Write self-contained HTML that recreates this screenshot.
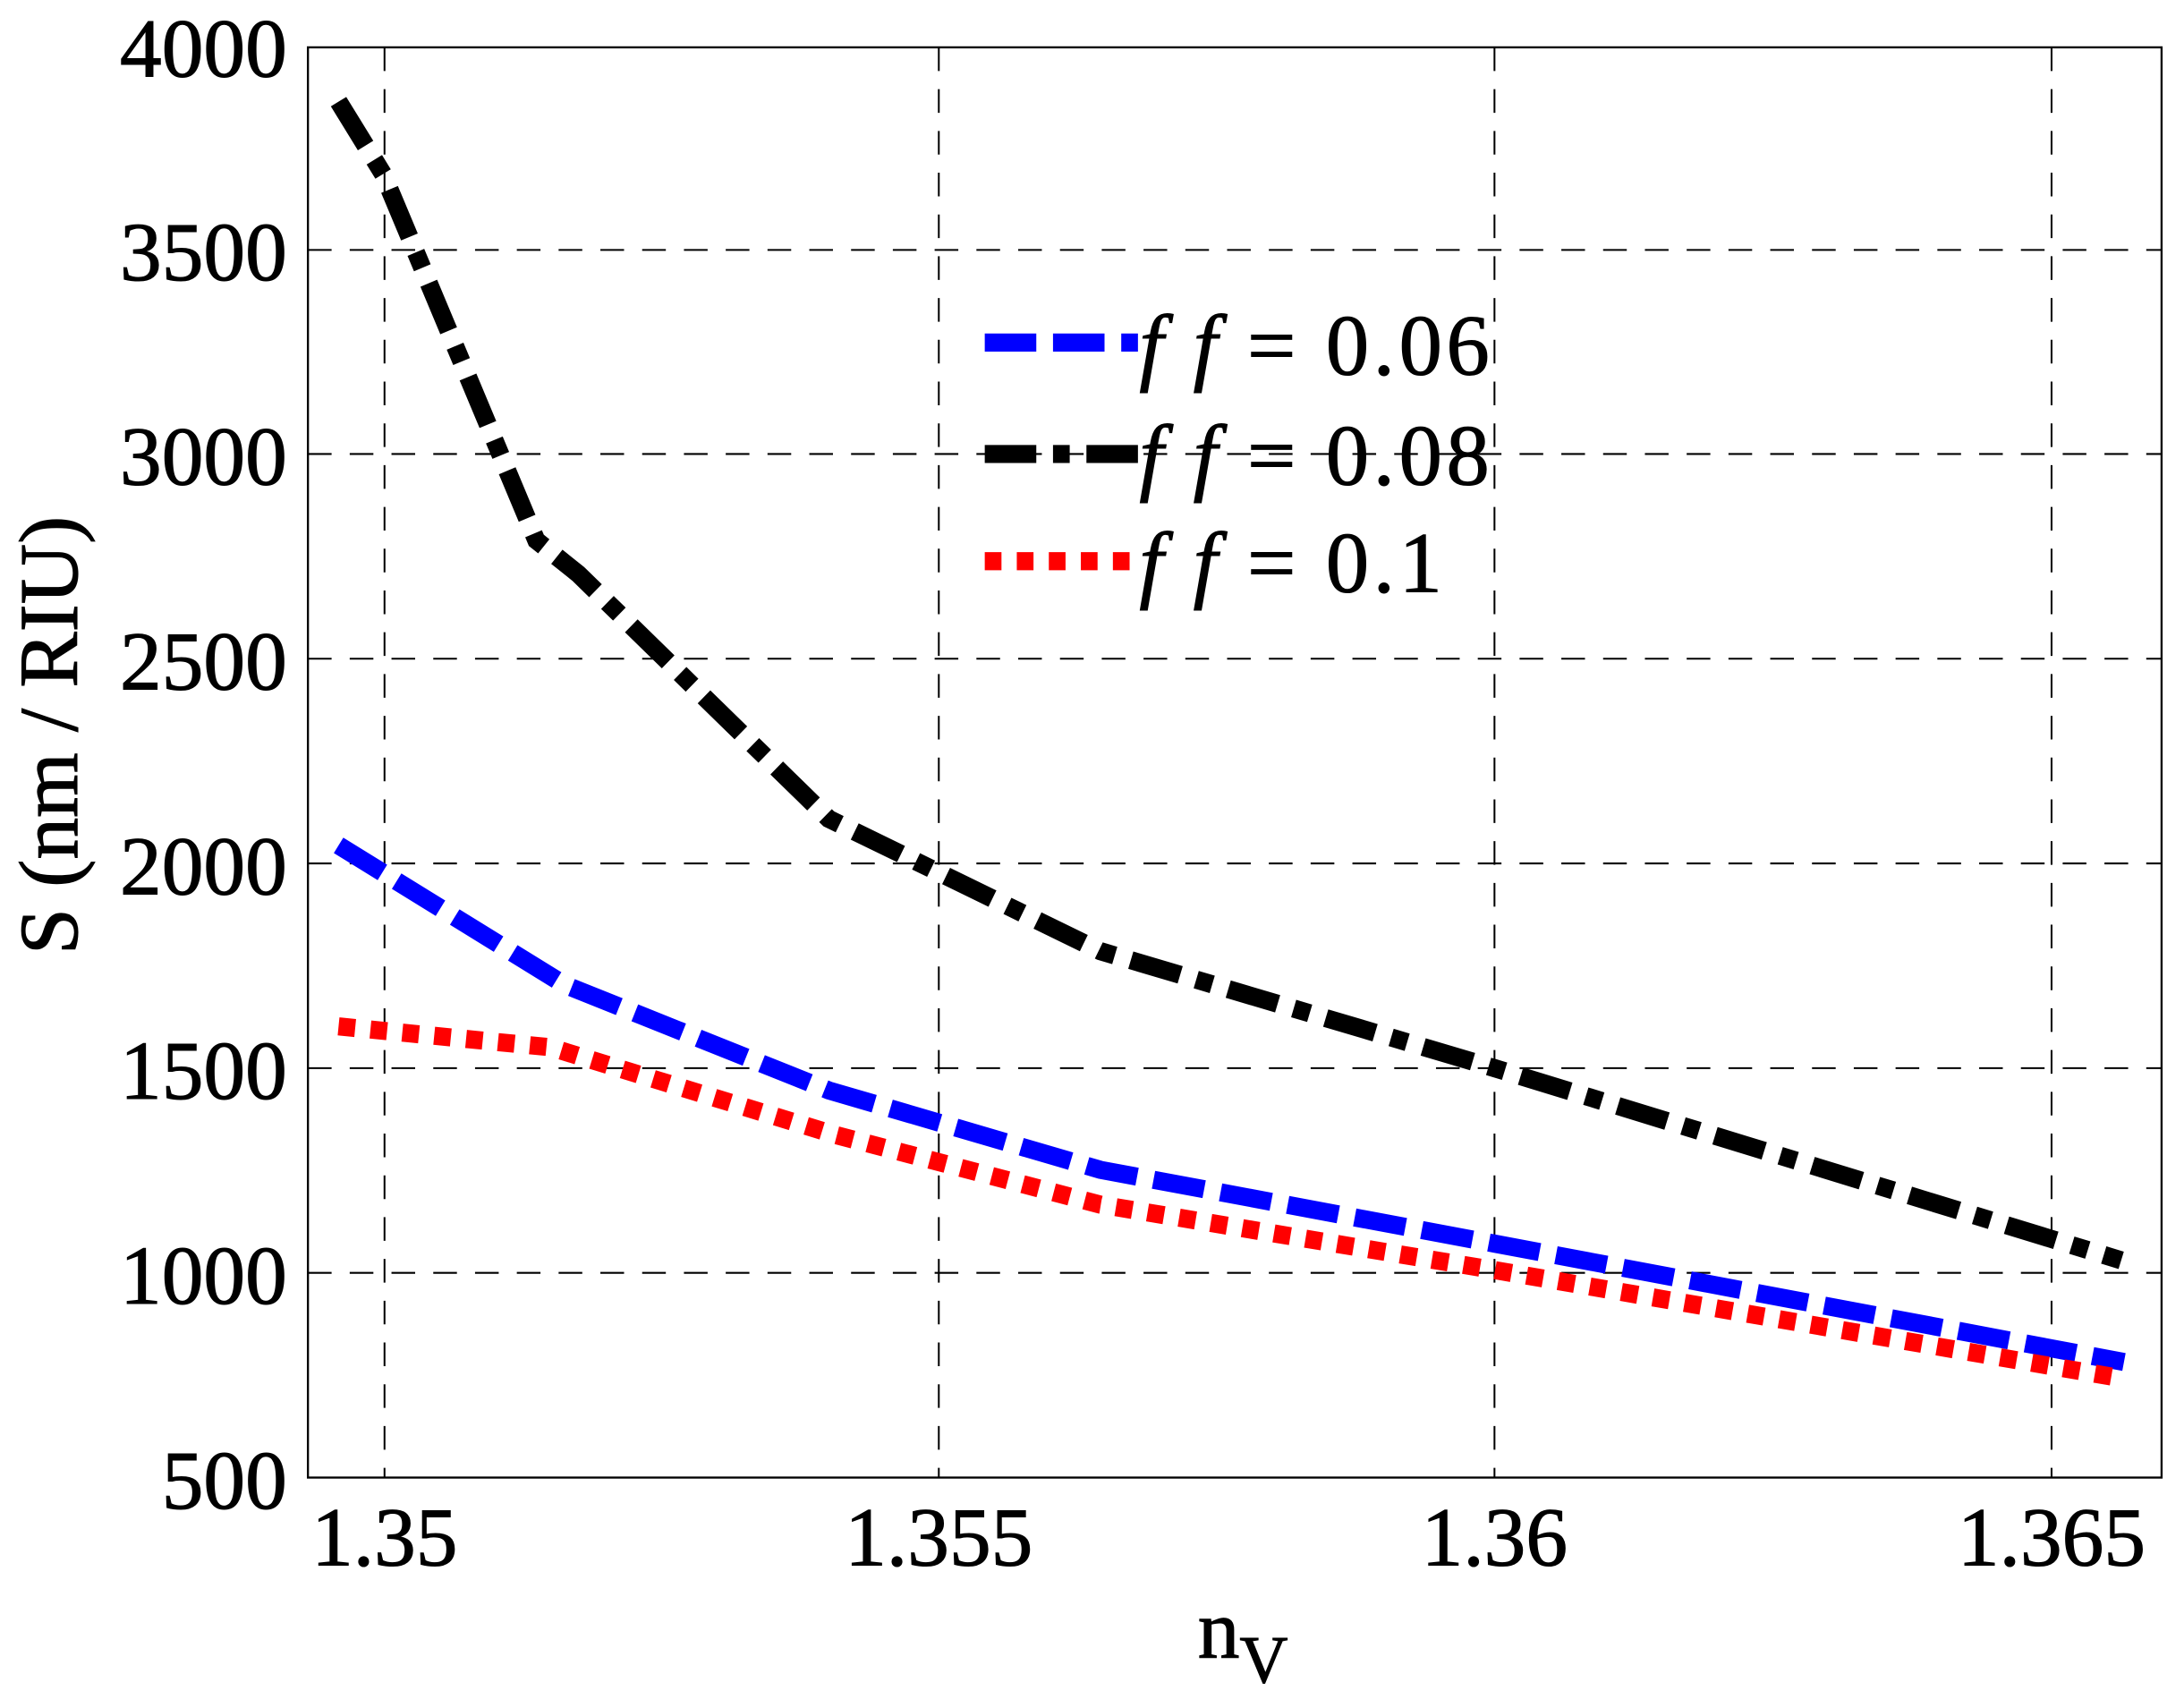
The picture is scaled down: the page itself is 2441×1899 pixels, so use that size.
<!DOCTYPE html>
<html><head><meta charset="utf-8"><style>
html,body{margin:0;padding:0;background:#fff;}
svg{display:block;}
text{font-family:"Liberation Serif",serif;fill:#000;stroke:#000;stroke-width:0.7;}
</style></head><body>
<svg width="2441" height="1899" viewBox="0 0 1568 1220" xmlns="http://www.w3.org/2000/svg">
<rect width="1568" height="1220" fill="#fff"/>
<g stroke="#000" stroke-width="1.3" stroke-dasharray="17,13" fill="none">
<line x1="276" y1="34" x2="276" y2="1061"/>
<line x1="674" y1="34" x2="674" y2="1061"/>
<line x1="1073" y1="34" x2="1073" y2="1061"/>
<line x1="1473" y1="34" x2="1473" y2="1061"/>
<line x1="221" y1="179.5" x2="1552" y2="179.5"/>
<line x1="221" y1="326" x2="1552" y2="326"/>
<line x1="221" y1="473" x2="1552" y2="473"/>
<line x1="221" y1="620" x2="1552" y2="620"/>
<line x1="221" y1="767" x2="1552" y2="767"/>
<line x1="221" y1="914" x2="1552" y2="914"/>
</g>
<rect x="221" y="34" width="1331" height="1027" fill="none" stroke="#000" stroke-width="1.5"/>
<polyline points="243,607 405,707 595,783 790,840 1073,893 1525,978" fill="none" stroke="#00f" stroke-width="13" stroke-dasharray="37,12"/>
<polyline points="243,737 395,752 600,815 790,865 1073,912 1525,990" fill="none" stroke="#f00" stroke-width="13" stroke-dasharray="12,11"/>
<polyline points="243,73 275,125 385,388 415,412 595,588 790,683 1073,767 1523,905" fill="none" stroke="#000" stroke-width="13" stroke-dasharray="37,12,12,12"/>
<line x1="707" y1="246" x2="817" y2="246" stroke="#00f" stroke-width="13" stroke-dasharray="37,12"/>
<line x1="707" y1="326" x2="817" y2="326" stroke="#000" stroke-width="13" stroke-dasharray="37,12,12,12"/>
<line x1="707" y1="403" x2="817" y2="403" stroke="#f00" stroke-width="13" stroke-dasharray="12,11"/>
<g font-size="62" letter-spacing="3">
<text x="818" y="269"><tspan font-style="italic">f f</tspan> = 0.06</text>
<text x="818" y="348"><tspan font-style="italic">f f</tspan> = 0.08</text>
<text x="818" y="425"><tspan font-style="italic">f f</tspan> = 0.1</text>
</g>
<g font-size="60" text-anchor="end">
<text x="206" y="55">4000</text>
<text x="206" y="201">3500</text>
<text x="206" y="348">3000</text>
<text x="206" y="495">2500</text>
<text x="206" y="642">2000</text>
<text x="206" y="789">1500</text>
<text x="206" y="936">1000</text>
<text x="206" y="1083">500</text>
</g>
<g font-size="60" text-anchor="middle">
<text x="276" y="1124">1.35</text>
<text x="674" y="1124">1.355</text>
<text x="1073" y="1124">1.36</text>
<text x="1473" y="1124">1.365</text>
</g>
<text x="860" y="1190" font-size="60">n<tspan font-size="48" dy="18">V</tspan></text>
<text transform="translate(55,528) rotate(-90)" font-size="60" text-anchor="middle">S (nm / RIU)</text>
</svg>
</body></html>
